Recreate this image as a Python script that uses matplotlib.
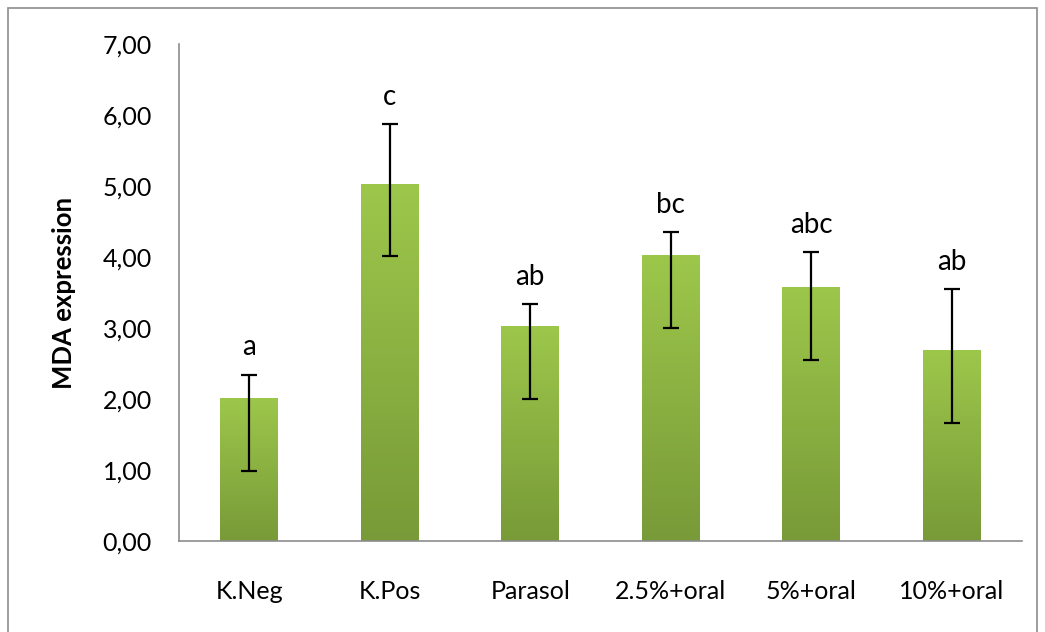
import numpy as np
import matplotlib
matplotlib.use("Agg")
import matplotlib.pyplot as plt
from matplotlib.colors import LinearSegmentedColormap
from matplotlib.patches import Rectangle

groups = ["K.Neg", "K.Pos", "Parasol", "2.5%+oral", "5%+oral", "10%+oral"]
means = [2.01, 5.03, 3.03, 4.03, 3.58, 2.69]
err_low = [0.99, 4.01, 2.00, 3.00, 2.55, 1.66]
err_high = [2.34, 5.87, 3.34, 4.35, 4.07, 3.55]
letters = ["a", "c", "ab", "bc", "abc", "ab"]
yticks = [0, 1, 2, 3, 4, 5, 6, 7]

plt.rcParams['font.family'] = ['Lato', 'DejaVu Sans']

fig = plt.figure(figsize=(10.45, 6.32), dpi=100)
ax = fig.add_axes([0.1713, 0.144, 0.978 - 0.1713, 0.930 - 0.144])

# outer chart frame
fig.patches.append(Rectangle((8 / 1045, -0.01), (1037 - 8) / 1045, 1 - 8 / 632 + 0.01,
                             transform=fig.transFigure, fill=False,
                             edgecolor="#8c8c8c", linewidth=1.2))

x = np.arange(len(groups))
bars = ax.bar(x, means, width=0.41, color="none", zorder=2)

cmap = LinearSegmentedColormap.from_list("grn", ["#789a38", "#9dc74b"])
grad = np.linspace(0, 1, 256).reshape(-1, 1)
for b in bars:
    x0, w, h = b.get_x(), b.get_width(), b.get_height()
    im = ax.imshow(grad, cmap=cmap, origin="lower", aspect="auto",
                   extent=[x0, x0 + w, 0, h], zorder=2)
    im.set_clip_path(b)

lo = np.array(means) - np.array(err_low)
hi = np.array(err_high) - np.array(means)
ax.errorbar(x, means, yerr=[lo, hi], fmt="none", ecolor="black",
            elinewidth=1.6, capsize=6, capthick=1.6, zorder=3)

for xi, top, lab in zip(x, err_high, letters):
    ax.annotate(lab, (xi, top), xytext=(0, 14), textcoords="offset points",
                ha="center", va="baseline", fontsize=20)

ax.set_xlim(-0.5, len(groups) - 0.5)
ax.set_ylim(0, 7)
ax.set_yticks(yticks)
ax.set_yticklabels([f"{v:.2f}".replace(".", ",") for v in yticks])
ax.set_xticks(x)
ax.set_xticklabels(groups)
ax.tick_params(axis="both", length=0, labelsize=18)
ax.tick_params(axis="y", pad=19.5)
ax.tick_params(axis="x", pad=28)
ax.set_ylabel("MDA expression", fontsize=18.5, fontweight="bold")
ax.yaxis.label.set_va("center")
ax.yaxis.set_label_coords(-0.136, 0.5)

for s in ["top", "right"]:
    ax.spines[s].set_visible(False)
for s in ["left", "bottom"]:
    ax.spines[s].set_color("#8c8c8c")
    ax.spines[s].set_linewidth(1.2)

fig.savefig("out.png", dpi=100)
